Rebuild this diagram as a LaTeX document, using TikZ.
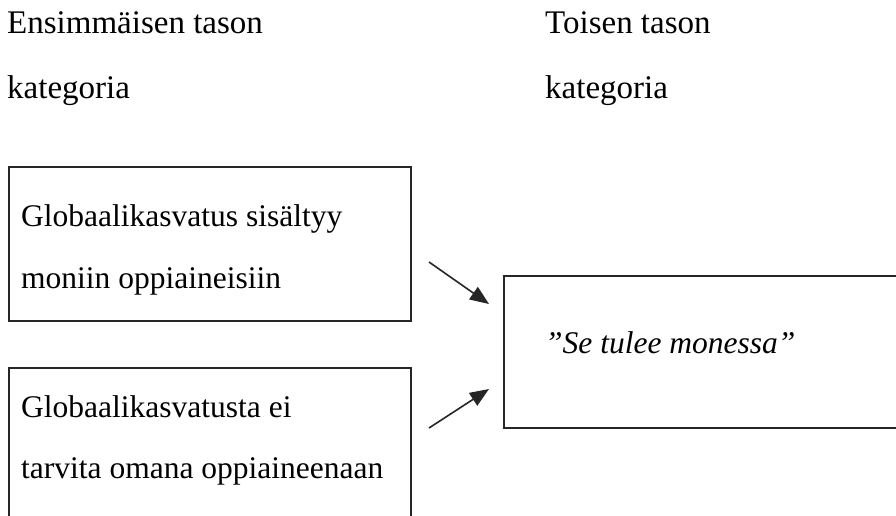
\documentclass[tikz,border=0pt]{standalone}
\usepackage{fontspec}
\setmainfont{Liberation Serif}
\usetikzlibrary{arrows.meta}
\begin{document}
\begin{tikzpicture}[x=1pt,y=-1pt,
  box/.style={draw=black!85,line width=1.6pt,inner sep=0pt,rectangle},
  txt/.style={anchor=base west,inner sep=0pt,font=\fontsize{31.5}{36}\selectfont},
  head/.style={anchor=base west,inner sep=0pt,font=\fontsize{33}{38}\selectfont},
  arr/.style={line width=1.6pt,draw=black!85,-{Triangle[length=19pt,width=15pt]}}]
\useasboundingbox (0,0) rectangle (896,515);
\fill[white] (0,0) rectangle (896,515);
% headers
\node[head] (h1) at (7,33) {Ensimmäisen tason};
\node[head] (h2) at (7,98) {kategoria};
\node[head] (h3) at (545,33) {Toisen tason};
\node[head] (h4) at (545,98) {kategoria};
% boxes
\node[box,minimum width=402pt,minimum height=154pt] (b1) at (210,244) {};
\node[box,minimum width=402pt,minimum height=170pt] (b2) at (210,453) {};
\node[box,minimum width=410pt,minimum height=152pt] (rb) at (709,352) {};
% box texts
\node[txt] (t1) at (21,226) {Globaalikasvatus sisältyy};
\node[txt] (t2) at (21,288) {moniin oppiaineisiin};
\node[txt] (t3) at (21,417) {Globaalikasvatusta ei};
\node[txt] (t4) at (21,478) {tarvita omana oppiaineenaan};
\node[txt] (t5) at (545,353) {\itshape ”Se tulee monessa”};
% arrows
\coordinate (a1s) at (429,262);
\coordinate (a1e) at (489,304);
\coordinate (a2s) at (429,428);
\coordinate (a2e) at (489,389);
\draw[arr] (a1s) -- (a1e);
\draw[arr] (a2s) -- (a2e);
\end{tikzpicture}
\end{document}
